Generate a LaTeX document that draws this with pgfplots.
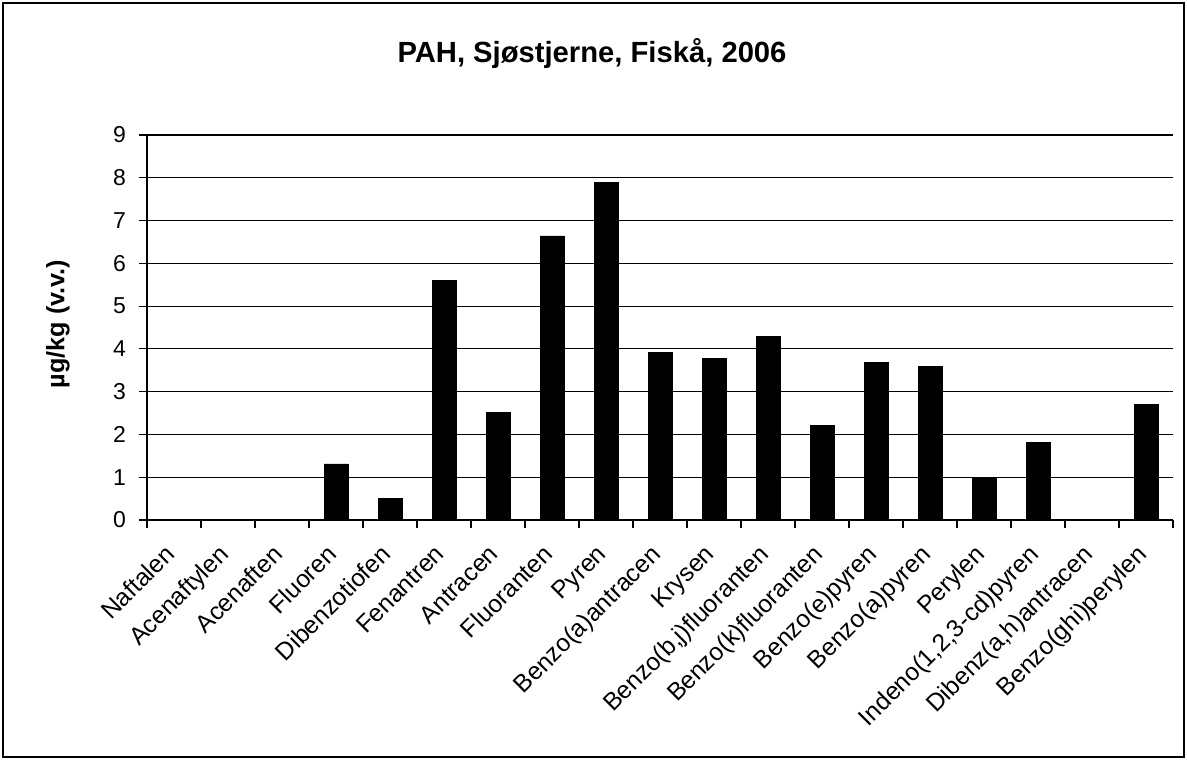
\documentclass[border=0pt]{standalone}
\usepackage{fontspec}
\setmainfont{Liberation Sans}
\usepackage{pgfplots}
\pgfplotsset{compat=1.18}
\begin{document}
\begin{tikzpicture}[x=1pt,y=1pt]
\path[use as bounding box] (0,0) rectangle (593.5,380);
\draw[line width=0.6pt] (1.5,1.5) rectangle (592,378.5);
\node[font=\bfseries\fontsize{14.6}{16}\selectfont] at (296,353) {PAH, Sjøstjerne, Fiskå, 2006};
\node[font=\bfseries\fontsize{12.6}{14}\selectfont, rotate=90] at (29,218) {µg/kg (v.v.)};
\begin{axis}[
  at={(73.5pt,120pt)}, anchor=south west,
  scale only axis, width=513pt, height=192.5pt,
  ybar, bar width=12pt,
  xmin=-0.5, xmax=18.5, ymin=0, ymax=9,
  ytick={0,...,9},
  xtick={-0.5,0.5,...,18.5},
  x tick label as interval,
  xticklabels={Naftalen,Acenaftylen,Acenaften,Fluoren,Dibenzotiofen,Fenantren,Antracen,Fluoranten,Pyren,Benzo(a)antracen,Krysen,{Benzo(b,j)fluoranten},Benzo(k)fluoranten,Benzo(e)pyren,Benzo(a)pyren,Perylen,{Indeno(1,2,3-cd)pyren},{Dibenz(a,h)antracen},Benzo(ghi)perylen},
  xticklabel style={rotate=45, anchor=north east, font=\fontsize{12.3}{14}\selectfont, xshift=-8pt, yshift=-0.5pt, inner sep=1pt},
  yticklabel style={font=\fontsize{11.5}{13}\selectfont, xshift=-3pt},
  /pgf/number format/assume math mode=true,
  axis lines=left, axis line style={-, line width=0.6pt},
  tick align=outside, major tick length=4pt,
  tick style={black, line width=0.6pt},
  ymajorgrids, grid style={black, line width=0.6pt},
  clip=false,
]
\addplot[fill=black, draw=black] coordinates {
(0,0) (1,0) (2,0) (3,1.31) (4,0.51) (5,5.61) (6,2.52) (7,6.64) (8,7.90) (9,3.92)
(10,3.78) (11,4.30) (12,2.20) (13,3.69) (14,3.60) (15,0.98) (16,1.82) (17,0) (18,2.71)
};
\end{axis}
\end{tikzpicture}
\end{document}
